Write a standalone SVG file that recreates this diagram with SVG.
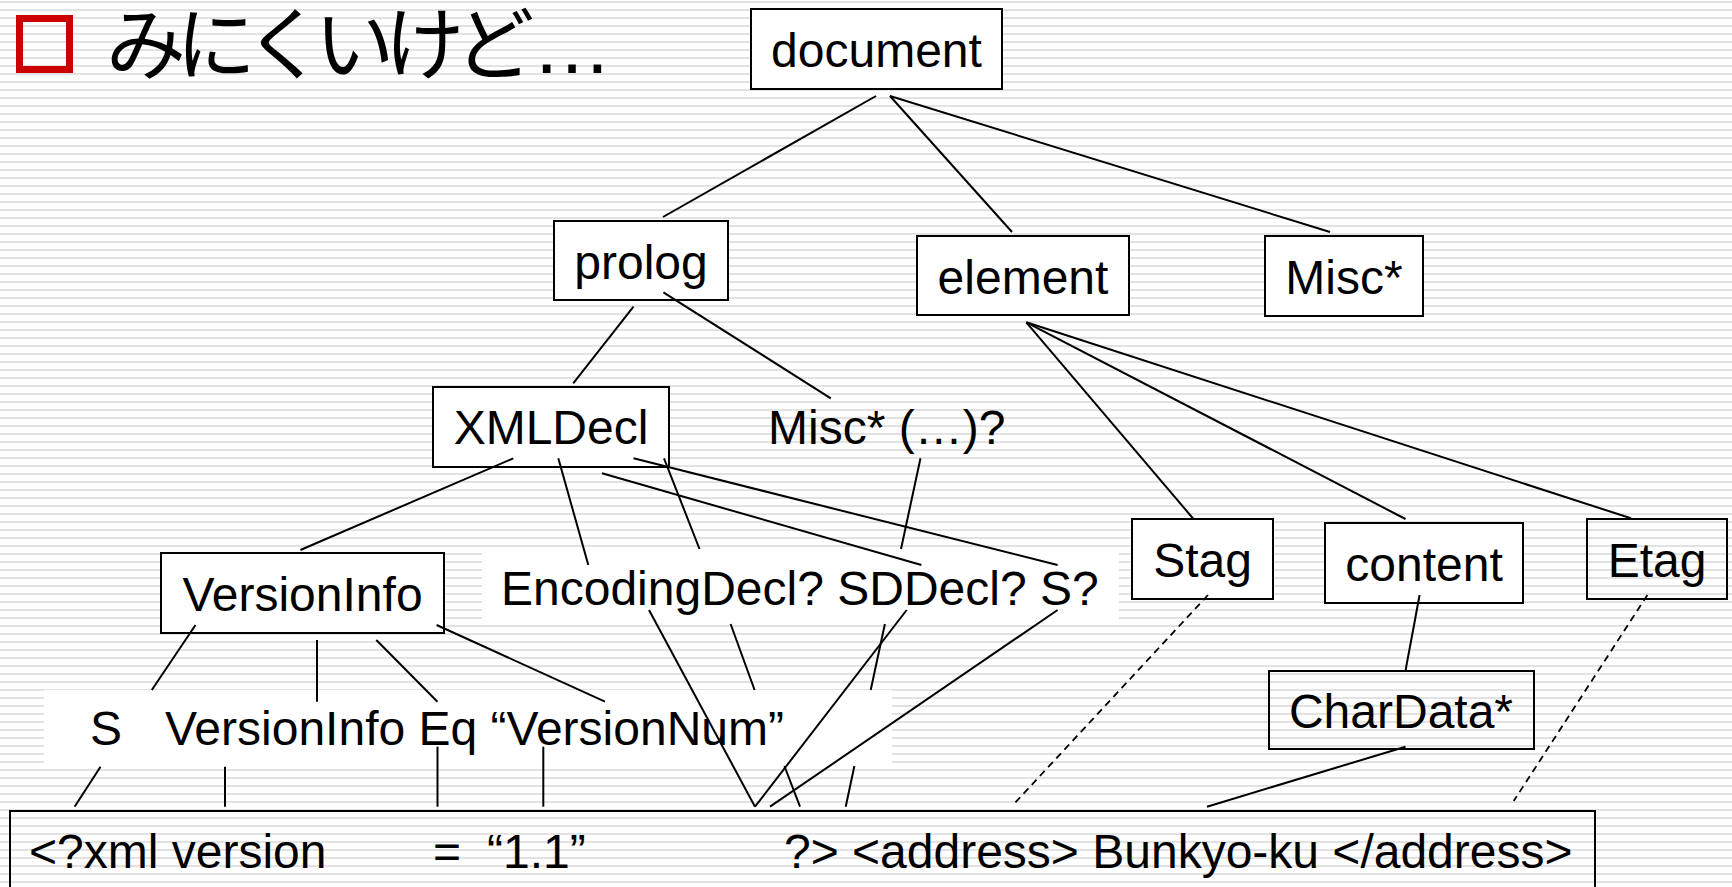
<svg xmlns="http://www.w3.org/2000/svg" width="1732" height="887" viewBox="0 0 1732 887">
  <defs>
    <pattern id="stripes" x="0" y="0" width="8" height="8" patternUnits="userSpaceOnUse">
      <rect x="0" y="0" width="8" height="8" fill="#ffffff"/>
      <rect x="0" y="1" width="8" height="2" fill="#e2e2e2"/>
    </pattern>
    <style>
      .box { fill: #ffffff; stroke: #000000; stroke-width: 2; }
      .frame { fill: none; stroke: #000000; stroke-width: 2; }
      .pad { fill: #ffffff; stroke: none; }
      .lbl { font-family: "Liberation Sans", Arial, sans-serif; font-size: 48px; fill: #000000; }
      .mid { text-anchor: middle; }
      .edge { fill: none; stroke: #000000; stroke-width: 2; }
      .ref { fill: none; stroke: #000000; stroke-width: 1.8; stroke-dasharray: 7 5; }
      .title { font-family: "Noto Sans CJK JP", "Noto Sans CJK SC", sans-serif; font-size: 80px; letter-spacing: -10px; fill: #000000; }
      .dots { font-family: "Liberation Sans", Arial, sans-serif; font-size: 80px; letter-spacing: 0; }
    </style>
  </defs>

  <!-- striped slide background -->
  <rect x="0" y="0" width="1732" height="887" fill="url(#stripes)"/>

  <!-- heading -->
  <g id="heading">
    <rect x="19.5" y="18.5" width="50" height="51" fill="none" stroke="#cc0000" stroke-width="7"/>
    <text class="title" x="106" y="73">みにくいけど<tspan class="dots" x="532">…</tspan></text>
  </g>

  <!-- white backdrops behind the unboxed label rows -->
  <g id="row-encoding">
    <rect class="pad" x="482" y="549" width="637" height="75"/>
    <text class="lbl" x="501" y="605">EncodingDecl? SDDecl? S?</text>
  </g>
  <g id="row-version">
    <rect class="pad" x="44" y="690" width="848" height="76"/>
    <text class="lbl" x="90" y="745">S</text>
    <text class="lbl" x="165" y="745">VersionInfo Eq “VersionNum”</text>
  </g>

  <g id="document">
    <rect class="box" x="751" y="9" width="251" height="80"/>
    <text class="lbl mid" x="876.5" y="66.5">document</text>
  </g>
  <g id="prolog">
    <rect class="box" x="554" y="221" width="174" height="79"/>
    <text class="lbl mid" x="641" y="279">prolog</text>
  </g>
  <g id="element">
    <rect class="box" x="917" y="236" width="212" height="79"/>
    <text class="lbl mid" x="1023" y="294">element</text>
  </g>
  <g id="misc">
    <rect class="box" x="1265" y="236" width="158" height="80"/>
    <text class="lbl mid" x="1344" y="294">Misc*</text>
  </g>
  <g id="xmldecl">
    <rect class="box" x="433" y="387" width="236" height="80"/>
    <text class="lbl mid" x="551" y="444">XMLDecl</text>
  </g>
  <g id="misc-opt">
    <text class="lbl" x="768" y="444">Misc* (…)?</text>
  </g>
  <g id="versioninfo">
    <rect class="box" x="161" y="553" width="283" height="80"/>
    <text class="lbl mid" x="302.5" y="611">VersionInfo</text>
  </g>
  <g id="stag">
    <rect class="box" x="1132" y="519" width="141" height="80"/>
    <text class="lbl mid" x="1202.5" y="577">Stag</text>
  </g>
  <g id="content">
    <rect class="box" x="1325" y="523" width="198" height="80"/>
    <text class="lbl mid" x="1424" y="581">content</text>
  </g>
  <g id="etag">
    <rect class="frame" x="1587" y="519" width="140" height="80"/>
    <text class="lbl mid" x="1657" y="577">Etag</text>
  </g>
  <g id="chardata">
    <rect class="frame" x="1269" y="671" width="265" height="78"/>
    <text class="lbl mid" x="1401" y="728">CharData*</text>
  </g>
  <g id="source">
    <rect class="frame" x="10" y="811" width="1585" height="120"/>
    <text class="lbl" x="29" y="868">&lt;?xml version</text>
    <text class="lbl" x="433" y="868">=</text>
    <text class="lbl" x="487" y="868">“1.1”</text>
    <text class="lbl" x="784" y="868">?&gt; &lt;address&gt; Bunkyo-ku &lt;/address&gt;</text>
  </g>

  <!-- parse-tree edges -->
  <g id="connectors">
    <path class="edge" d="M876,96 L663,217"/>
    <path class="edge" d="M890,96 L1012,232"/>
    <path class="edge" d="M890,96 L1330,232"/>
    <path class="edge" d="M633.5,306.7 L573.2,383.3"/>
    <path class="edge" d="M663.4,292.3 L830.8,398.3"/>
    <path class="edge" d="M1026.3,322.3 L1193.5,519"/>
    <path class="edge" d="M1026.3,322.3 L1405.5,519"/>
    <path class="edge" d="M1026.3,322.3 L1631,518.3"/>
    <path class="edge" d="M513.3,458.3 L300.4,550"/>
    <path class="edge" d="M558.3,458.3 L588.3,565"/>
    <path class="edge" d="M664,458.3 L699.5,549 M730.6,624 L754.6,690 M784.4,766 L800,806.7"/>
    <path class="edge" d="M920.5,458.3 L901,549 M884.9,624 L870.7,690 M854.4,766 L845.7,806.7"/>
    <path class="edge" d="M602,473.3 L921.4,565"/>
    <path class="edge" d="M633.5,458.3 L1057.6,565"/>
    <path class="edge" d="M649,610 L755,806.7"/>
    <path class="edge" d="M906.7,610 L755,806.7"/>
    <path class="edge" d="M1057.6,610 L770,806.7"/>
    <path class="edge" d="M195.5,625 L151.8,690"/>
    <path class="edge" d="M317,640 L317,701.7"/>
    <path class="edge" d="M376.3,640 L437.5,701.7"/>
    <path class="edge" d="M436.6,625 L605,701.7"/>
    <path class="edge" d="M100.5,766.7 L74.6,806.7"/>
    <path class="edge" d="M225,766.7 L225,806.7"/>
    <path class="edge" d="M437.5,746.7 L437.5,806.7"/>
    <path class="edge" d="M543.3,746.7 L543.3,806.7"/>
    <path class="edge" d="M1419.6,595 L1405.5,670.7"/>
    <path class="edge" d="M1405.5,746.7 L1207,806.7"/>
    <path class="ref" d="M1208,595 L1013,805"/>
    <path class="ref" d="M1647.4,595 L1513.7,801"/>
  </g>
</svg>
